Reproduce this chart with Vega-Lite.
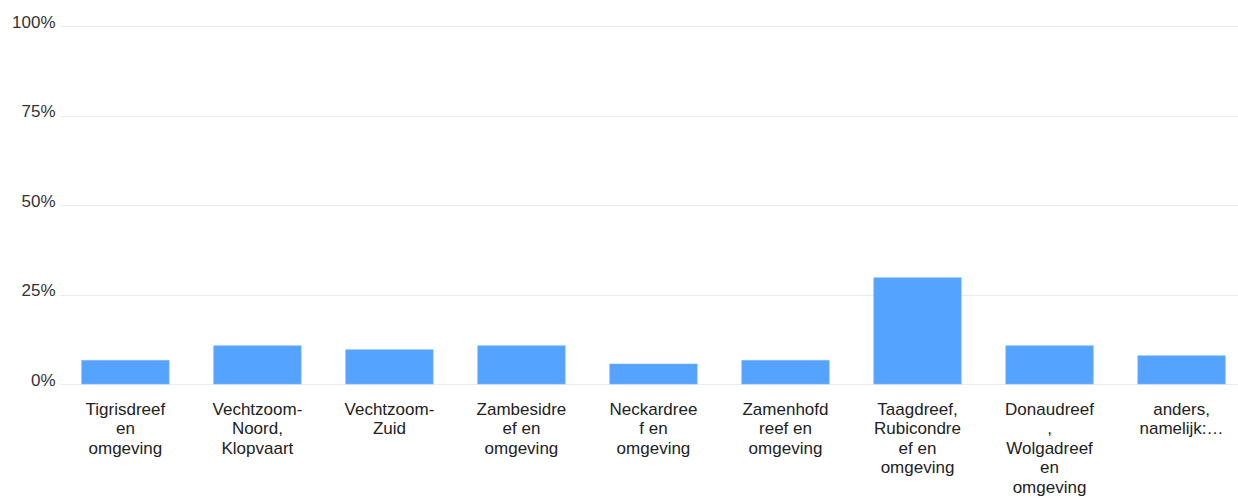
{
  "$schema": "https://vega.github.io/schema/vega-lite/v6.json",
  "width": 1178,
  "height": 358,
  "autosize": {"type": "none"},
  "padding": {"left": 60, "top": 26, "right": 0, "bottom": 114},
  "background": "white",
  "config": {"view": {"stroke": null}, "font": "Liberation Sans"},
  "data": {
    "values": [
      {"wijk": "Tigrisdreef en omgeving", "aandeel": 0.066},
      {"wijk": "Vechtzoom-Noord, Klopvaart", "aandeel": 0.107},
      {"wijk": "Vechtzoom-Zuid", "aandeel": 0.096},
      {"wijk": "Zambesidreef en omgeving", "aandeel": 0.107},
      {"wijk": "Neckardreef en omgeving", "aandeel": 0.056},
      {"wijk": "Zamenhofdreef en omgeving", "aandeel": 0.066},
      {"wijk": "Taagdreef, Rubicondreef en omgeving", "aandeel": 0.297},
      {"wijk": "Donaudreef, Wolgadreef en omgeving", "aandeel": 0.107},
      {"wijk": "anders, namelijk:…", "aandeel": 0.079}
    ]
  },
  "mark": {"type": "bar", "color": "#53a3ff", "stroke": "#7fbaff", "strokeWidth": 0.6},
  "encoding": {
    "x": {
      "field": "wijk",
      "type": "nominal",
      "sort": null,
      "scale": {"paddingInner": 0.337, "paddingOuter": 0.13, "align": 0.63},
      "axis": {
        "title": null,
        "domain": false,
        "ticks": false,
        "labelAngle": 0,
        "labelAlign": "center",
        "labelBaseline": "top",
        "labelPadding": 17,
        "labelFontSize": 17,
        "labelLineHeight": 19.5,
        "labelColor": "#222222",
        "labelLimit": 200,
        "labelExpr": "({'Tigrisdreef en omgeving': ['Tigrisdreef', 'en', 'omgeving'], 'Vechtzoom-Noord, Klopvaart': ['Vechtzoom-', 'Noord,', 'Klopvaart'], 'Vechtzoom-Zuid': ['Vechtzoom-', 'Zuid'], 'Zambesidreef en omgeving': ['Zambesidre', 'ef en', 'omgeving'], 'Neckardreef en omgeving': ['Neckardree', 'f en', 'omgeving'], 'Zamenhofdreef en omgeving': ['Zamenhofd', 'reef en', 'omgeving'], 'Taagdreef, Rubicondreef en omgeving': ['Taagdreef,', 'Rubicondre', 'ef en', 'omgeving'], 'Donaudreef, Wolgadreef en omgeving': ['Donaudreef', ',', 'Wolgadreef', 'en', 'omgeving'], 'anders, namelijk:…': ['anders,', 'namelijk:…']})[datum.value]"
      }
    },
    "y": {
      "field": "aandeel",
      "type": "quantitative",
      "scale": {"domain": [0, 1]},
      "axis": {
        "title": null,
        "domain": false,
        "ticks": false,
        "values": [0, 0.25, 0.5, 0.75, 1],
        "format": ".0%",
        "labelFontSize": 17,
        "labelColor": "#333333",
        "labelPadding": 5,
        "labelOffset": -4,
        "gridColor": "#ebebeb",
        "gridWidth": 1
      }
    }
  }
}
